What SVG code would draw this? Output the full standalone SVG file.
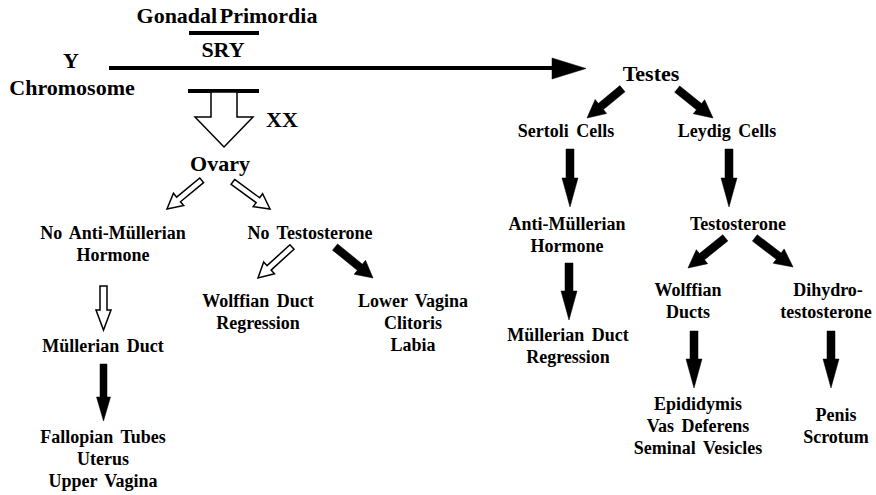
<svg xmlns="http://www.w3.org/2000/svg" width="876" height="495" viewBox="0 0 876 495">
<style>
.lbl text{font-family:'Liberation Serif','Times New Roman','DejaVu Serif',serif;font-weight:700;fill:#000;text-anchor:middle}
.t18{font-size:18px;word-spacing:3px}
.t22{font-size:22px}
.hollow{fill:#fff;stroke:#000;stroke-width:1.5;stroke-linejoin:miter}
.solid{fill:#000;stroke:#000;stroke-width:0.5}
.bar{stroke:#000;stroke-width:4;fill:none}
</style>
<rect width="876" height="495" fill="#fff"/>
<g id="connectors">
  <line class="bar" x1="189" y1="33" x2="259" y2="33"/>
  <line class="bar" x1="188" y1="91" x2="259" y2="91"/>
  <line class="bar" x1="109" y1="68" x2="554" y2="68" stroke-width="4.5"/>
  <polygon class="solid" points="552,58 586,68.5 552,79"/>
  <polygon class="hollow" points="211,92 237,92 237,117 253,117 224,147 195,117 211,117"/>
  <polygon class="hollow" transform="translate(167,209) rotate(140.4)" points="-45,-3 -15,-3 -15,-8 0,0 -15,8 -15,3 -45,3"/>
  <polygon class="hollow" transform="translate(270,209) rotate(36.1)" points="-46,-3 -15,-3 -15,-8 0,0 -15,8 -15,3 -46,3"/>
  <polygon class="hollow" points="100,286 107,286 107,310 111,310 103.5,330 96,310 100,310"/>
  <polygon class="solid" points="100,364 107,364 107,397 110.5,397 103.5,421 96.5,397 100,397"/>
  <polygon class="hollow" transform="translate(258,278) rotate(137.6)" points="-46,-3 -15,-3 -15,-8 0,0 -15,8 -15,3 -46,3"/>
  <polygon class="solid" transform="translate(373,278) rotate(39.2)" points="-49,-4 -17,-4 -17,-9 0,0 -17,9 -17,4 -49,4"/>
  <polygon class="solid" transform="translate(587,118) rotate(140.4)" points="-46,-4 -18,-4 -18,-9 0,0 -18,9 -18,4 -46,4"/>
  <polygon class="solid" transform="translate(713,118) rotate(38.9)" points="-46,-4 -18,-4 -18,-9 0,0 -18,9 -18,4 -46,4"/>
  <polygon class="solid" points="566,149 574,149 574,178 578,178 570,207 562,178 566,178"/>
  <polygon class="solid" points="725,149 733,149 733,178 737,178 729,207 721,178 725,178"/>
  <polygon class="solid" points="565,263 573,263 573,291 577,291 569,320 561,291 565,291"/>
  <polygon class="solid" transform="translate(688,268) rotate(141)" points="-48,-4 -18,-4 -18,-9 0,0 -18,9 -18,4 -48,4"/>
  <polygon class="solid" transform="translate(793,267) rotate(37.3)" points="-48,-4 -18,-4 -18,-9 0,0 -18,9 -18,4 -48,4"/>
  <polygon class="solid" points="690,331 698,331 698,359 702,359 694,388 686,359 690,359"/>
  <polygon class="solid" points="827,331 835,331 835,359 839,359 831,388 823,359 827,359"/>
</g>
<g class="lbl">
<g id="n-gonadal"><text class="t22" x="227" y="23" style="word-spacing:-3px">Gonadal Primordia</text></g>
<g id="n-sry"><text class="t22" x="223" y="57">SRY</text></g>
<g id="n-y"><text class="t22" x="71" y="68">Y</text><text class="t22" x="72" y="95">Chromosome</text></g>
<g id="n-xx"><text class="t22" x="282" y="127">XX</text></g>
<g id="n-ovary"><text class="t22" x="220" y="171">Ovary</text></g>
<g id="n-noamh"><text class="t18" x="113" y="239">No Anti-Müllerian</text><text class="t18" x="113" y="261">Hormone</text></g>
<g id="n-notest"><text class="t18" x="310" y="239">No Testosterone</text></g>
<g id="n-mduct"><text class="t18" x="103" y="352">Müllerian Duct</text></g>
<g id="n-fallopian"><text class="t18" x="103" y="443">Fallopian Tubes</text><text class="t18" x="103" y="465">Uterus</text><text class="t18" x="103" y="487">Upper Vagina</text></g>
<g id="n-wreg"><text class="t18" x="258" y="307">Wolffian Duct</text><text class="t18" x="258" y="329">Regression</text></g>
<g id="n-lower"><text class="t18" x="413" y="307">Lower Vagina</text><text class="t18" x="413" y="329">Clitoris</text><text class="t18" x="413" y="351">Labia</text></g>
<g id="n-testes"><text class="t22" x="651" y="81">Testes</text></g>
<g id="n-sertoli"><text class="t18" x="566" y="137">Sertoli Cells</text></g>
<g id="n-leydig"><text class="t18" x="727" y="137">Leydig Cells</text></g>
<g id="n-amh"><text class="t18" x="567" y="230">Anti-Müllerian</text><text class="t18" x="567" y="252">Hormone</text></g>
<g id="n-testosterone"><text class="t18" x="738" y="230">Testosterone</text></g>
<g id="n-mreg"><text class="t18" x="568" y="341">Müllerian Duct</text><text class="t18" x="568" y="363">Regression</text></g>
<g id="n-wducts"><text class="t18" x="688" y="296">Wolffian</text><text class="t18" x="688" y="318">Ducts</text></g>
<g id="n-dht"><text class="t18" x="828" y="296">Dihydro-</text><text class="t18" x="826" y="318">testosterone</text></g>
<g id="n-epi"><text class="t18" x="698" y="410">Epididymis</text><text class="t18" x="698" y="432">Vas Deferens</text><text class="t18" x="698" y="454">Seminal Vesicles</text></g>
<g id="n-penis"><text class="t18" x="836" y="421">Penis</text><text class="t18" x="836" y="443">Scrotum</text></g>
</g>
</svg>
